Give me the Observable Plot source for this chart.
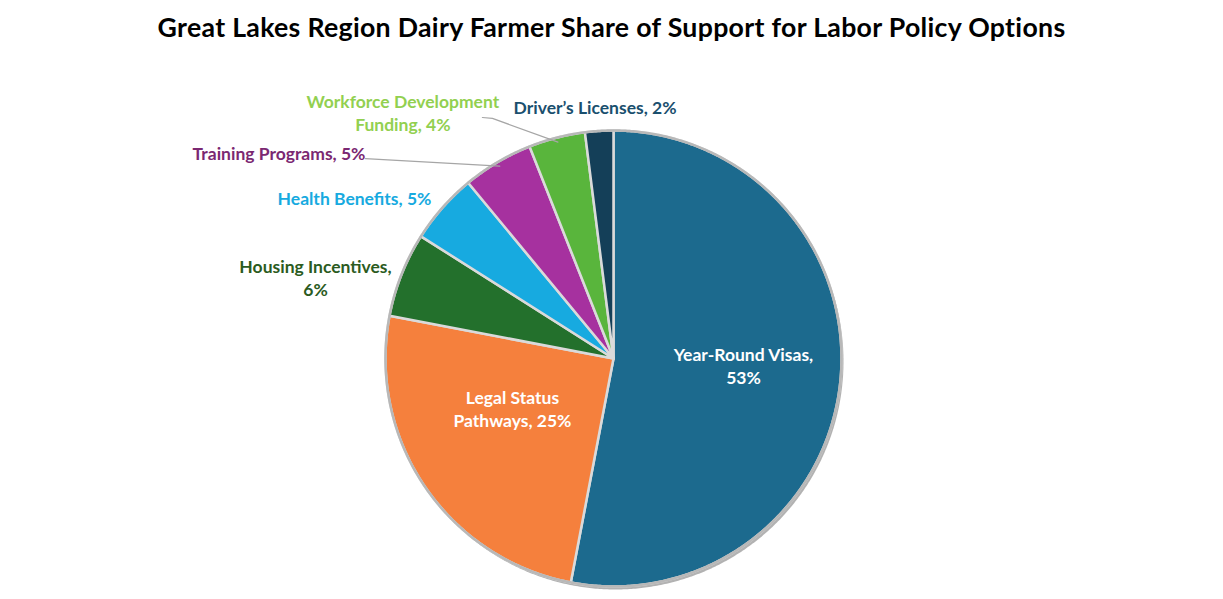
<!DOCTYPE html>
<html>
<head>
<meta charset="utf-8">
<script src="https://cdn.jsdelivr.net/npm/d3@7"></script>
<script src="https://cdn.jsdelivr.net/npm/@observablehq/plot@0.6"></script>
<style>
  html, body { margin: 0; padding: 0; background: #ffffff; }
  #title { height: 55px; line-height: 55px; text-align: center; font-family: Lato, "Open Sans", sans-serif; font-weight: bold; font-size: 26.7px; letter-spacing: 0.3px; color: #000; width: 1223px; }
  #chart svg { display: block; }
</style>
</head>
<body>
<div id="title">Great Lakes Region Dairy Farmer Share of Support for Labor Policy Options</div>
<div id="chart"></div>
<script>
// ---- data ----
const categories = ["Year-Round Visas", "Legal Status Pathways", "Housing Incentives", "Health Benefits", "Training Programs", "Workforce Development Funding", "Driver\u2019s Licenses"];
const shares = [53, 25, 6, 5, 5, 4, 2];
const labelTexts = ["Year-Round Visas,\n53%", "Legal Status\nPathways, 25%", "Housing Incentives,\n6%", "Health Benefits, 5%", "Training Programs, 5%", "Workforce Development\nFunding, 4%", "Driver\u2019s Licenses, 2%"];

// ---- styles / layout ----
const sliceColors = ["#1c6a8e", "#f5803d", "#23702c", "#17aae0", "#a6319f", "#59b53c", "#143f58"];
const labelColors = ["#ffffff", "#ffffff", "#2b5b1e", "#17aae0", "#7b2872", "#92d050", "#1a4f6e"];
// label anchor positions in pie units (radius = 1)
const labelX = [0.57, -0.443, -1.307, -1.136, -1.467, -0.924, -0.081];
const labelY = [-0.028, -0.219, 0.358, 0.706, 0.904, 1.081, 1.105];
// leader lines start (pie units), index of slice
const leaderSlices = [4, 5];
const leaderStarts = [[[-1.088, 0.877]], [[-0.575, 1.057], [-0.531, 1.053]]];

const total = d3.sum(shares);
let cum = 0;
const slices = shares.map((v, i) => {
  const a0 = cum / total * 2 * Math.PI;
  cum += v;
  const a1 = cum / total * 2 * Math.PI;
  return {i, name: categories[i], value: v, a0, a1, mid: (a0 + a1) / 2, color: sliceColors[i]};
});

// polygon points for each slice (angles clockwise from top)
const slicePts = [];
for (const s of slices) {
  slicePts.push({name: s.name, color: s.color, x: 0, y: 0});
  const n = Math.max(2, Math.ceil((s.a1 - s.a0) / (Math.PI / 360)));
  for (let k = 0; k <= n; k++) {
    const a = s.a0 + (s.a1 - s.a0) * k / n;
    slicePts.push({name: s.name, color: s.color, x: Math.sin(a), y: Math.cos(a)});
  }
}
const circlePts = d3.range(0, 721).map(k => ({x: Math.sin(k / 720 * 2 * Math.PI), y: Math.cos(k / 720 * 2 * Math.PI)}));

const labels = slices.map(s => ({text: labelTexts[s.i], x: labelX[s.i], y: labelY[s.i], color: labelColors[s.i]}));

const leaders = [];
leaderSlices.forEach((si, j) => {
  const s = slices[si];
  leaderStarts[j].forEach(p => leaders.push({g: j, x: p[0], y: p[1]}));
  leaders.push({g: j, x: Math.sin(s.mid) * 0.98, y: Math.cos(s.mid) * 0.98});
});

const cx = 613, cy = 303, R = 228;
const chart = Plot.plot({
  width: 1223,
  height: 544,
  margin: 0,
  x: {domain: [-1, 1], range: [cx - R, cx + R], axis: null},
  y: {domain: [-1, 1], range: [cy + R, cy - R], axis: null},
  color: {type: "identity"},
  style: {fontFamily: "Lato, 'Open Sans', sans-serif", background: "#ffffff"},
  marks: [
    // shadow
    Plot.line(circlePts, {x: "x", y: "y", fill: "#000000", fillOpacity: 0.3, stroke: "none", curve: "linear-closed", dx: 2, dy: 3}),
    Plot.line(slicePts, {x: "x", y: "y", z: "name", fill: "color", stroke: "#dadada", strokeWidth: 2.5, strokeLinejoin: "round", curve: "linear-closed"}),
    Plot.line(circlePts, {x: "x", y: "y", stroke: "#b8b8b8", strokeWidth: 2.5, curve: "linear-closed"}),
    Plot.line(leaders, {x: "x", y: "y", z: "g", stroke: "#a6a6a6", strokeWidth: 1.2}),
    Plot.text(labels, {x: "x", y: "y", text: "text", fill: "color", fontSize: 17.5, fontWeight: "bold", lineHeight: 1.32})
  ]
});
document.getElementById("chart").appendChild(chart);
</script>
</body>
</html>
